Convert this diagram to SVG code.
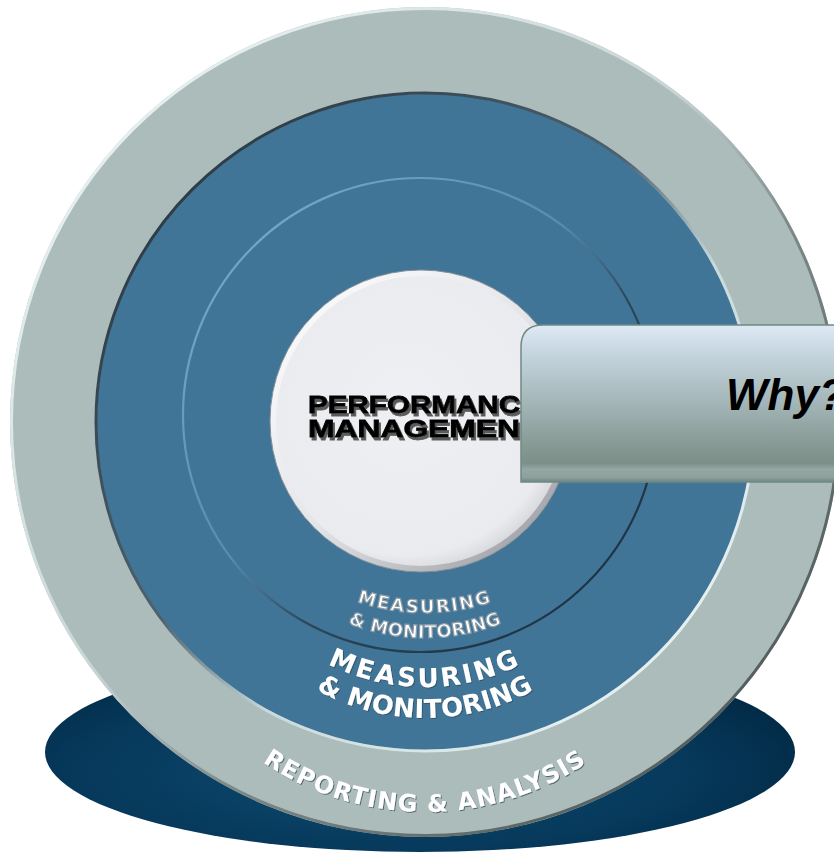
<svg xmlns="http://www.w3.org/2000/svg" width="834" height="853" viewBox="0 0 834 853">
<defs>
<radialGradient id="gShadow" cx="0.45" cy="0.6" r="0.6">
<stop offset="0" stop-color="#0d4b72"/>
<stop offset="0.7" stop-color="#06385a"/>
<stop offset="1" stop-color="#022a45"/>
</radialGradient>
<linearGradient id="gHiDark" x1="0" y1="0" x2="1" y2="1">
<stop offset="0" stop-color="#f2fbfb"/>
<stop offset="0.45" stop-color="#c9d6d5"/>
<stop offset="0.6" stop-color="#7d8a89"/>
<stop offset="1" stop-color="#3c4646"/>
</linearGradient>
<linearGradient id="gDarkHi" x1="0" y1="0" x2="1" y2="1">
<stop offset="0" stop-color="#1f2c34"/>
<stop offset="0.45" stop-color="#4d6270"/>
<stop offset="0.6" stop-color="#c8dadc"/>
<stop offset="1" stop-color="#f4fbfb"/>
</linearGradient>
<linearGradient id="gInnerEdge" x1="0" y1="0" x2="1" y2="1">
<stop offset="0" stop-color="#7fb0d6"/>
<stop offset="0.45" stop-color="#5a8ab0"/>
<stop offset="0.6" stop-color="#2b475a"/>
<stop offset="1" stop-color="#18283a"/>
</linearGradient>
<linearGradient id="gWhiteRim" x1="0" y1="0" x2="1" y2="1">
<stop offset="0" stop-color="#ffffff"/>
<stop offset="0.5" stop-color="#e4e5e9"/>
<stop offset="1" stop-color="#8f9196"/>
</linearGradient>
<radialGradient id="gWhite" cx="0.45" cy="0.45" r="0.55">
<stop offset="0" stop-color="#eff0f4"/>
<stop offset="0.9" stop-color="#eaebef"/>
<stop offset="1" stop-color="#d9dade"/>
</radialGradient>
<linearGradient id="gBox" x1="0" y1="0" x2="0" y2="1">
<stop offset="0" stop-color="#dfeaf5"/>
<stop offset="0.15" stop-color="#c9d8e2"/>
<stop offset="0.45" stop-color="#a8babd"/>
<stop offset="0.8" stop-color="#83968f"/>
<stop offset="0.88" stop-color="#7c8f8a"/>
<stop offset="0.92" stop-color="#95a7a3"/>
<stop offset="0.97" stop-color="#8ea09c"/>
<stop offset="1" stop-color="#6f8782"/>
</linearGradient>
<path id="pBigM" d="M 210,472 A 215 215 0 0 0 640,472"/>
<path id="pBigMon" d="M 200,493 A 225 225 0 0 0 650,493"/>
<path id="pRep" d="M 135,522 A 290 290 0 0 0 715,522"/>
<path id="pSm1" d="M 215,403 A 210 210 0 0 0 635,403"/>
<path id="pSm2" d="M 215,428 A 210 210 0 0 0 635,428"/>
<filter id="fSoft" x="-5%" y="-5%" width="110%" height="110%"><feGaussianBlur stdDeviation="0.5"/></filter>
<filter id="fDrop" x="-5%" y="-20%" width="115%" height="150%"><feDropShadow dx="2" dy="3" stdDeviation="0.3" flood-color="#5a5a5a" flood-opacity="1"/></filter>
<filter id="fTxt" x="-5%" y="-20%" width="115%" height="150%"><feDropShadow dx="1" dy="1" stdDeviation="0.6" flood-color="#25465c" flood-opacity="0.7"/></filter>
</defs>
<style>
.curve{font-family:"DejaVu Sans","Liberation Sans",sans-serif;font-weight:bold;fill:#ffffff;}
.pm{font-family:"Liberation Sans","Arial",sans-serif;font-weight:bold;font-size:24px;fill:#000000;stroke:#000000;stroke-width:0.8px;}
.why{font-family:"Liberation Sans","Arial",sans-serif;font-weight:bold;font-style:italic;font-size:44px;fill:#000000;}
</style>

<g id="base-shadow">
<ellipse cx="420" cy="752" rx="375" ry="100" fill="url(#gShadow)"/>
</g>

<g id="ring-reporting">
<circle cx="425" cy="422" r="415" fill="#acbcba"/>
<circle cx="425" cy="422" r="413.5" fill="none" stroke="url(#gHiDark)" stroke-width="3"/>
<text class="curve" font-size="24" letter-spacing="1.1" filter="url(#fTxt)"><textPath href="#pRep" startOffset="50%" text-anchor="middle">REPORTING &amp; ANALYSIS</textPath></text>
</g>

<g id="ring-measuring">
<circle cx="425" cy="422" r="328" fill="#417597"/>
<circle cx="425" cy="422" r="329" fill="none" stroke="url(#gDarkHi)" stroke-width="3"/>
<text class="curve" font-size="26" filter="url(#fTxt)"><textPath href="#pBigM" startOffset="50%" text-anchor="middle" letter-spacing="2.8">MEASURING</textPath><textPath href="#pBigMon" startOffset="50%" text-anchor="middle" letter-spacing="0.3">&amp; MONITORING</textPath></text>
</g>

<g id="ring-inner">
<circle cx="420" cy="415" r="237" fill="#417597"/>
<circle cx="420" cy="415" r="237" fill="none" stroke="url(#gInnerEdge)" stroke-width="2.2"/>
<g filter="url(#fSoft)">
<text class="curve" font-size="18" stroke="#8c9ba6" stroke-width="1.2"><textPath href="#pSm1" startOffset="50%" text-anchor="middle" letter-spacing="1.8">MEASURING</textPath><textPath href="#pSm2" startOffset="50%" text-anchor="middle" letter-spacing="0.2">&amp; MONITORING</textPath></text>
</g>
</g>

<g id="core">
<circle cx="421" cy="421" r="151" fill="url(#gWhite)"/>
<circle cx="421" cy="421" r="148" fill="none" stroke="url(#gWhiteRim)" stroke-width="6"/>
<circle cx="421" cy="421" r="151" fill="none" stroke="#7f8d96" stroke-width="1"/>
<text class="pm" filter="url(#fDrop)"><tspan x="308" y="413" textLength="212" lengthAdjust="spacingAndGlyphs">PERFORMANC</tspan><tspan x="308" y="437" textLength="212" lengthAdjust="spacingAndGlyphs">MANAGEMEN</tspan></text>
</g>

<g id="why-box">
<path d="M 521,482 L 521,347 Q 521,325 543,325 L 840,325 L 840,482 Z" fill="url(#gBox)" stroke="#6f8985" stroke-width="1.5"/>
<text class="why" x="726" y="410">Why?</text>
</g>

<g id="connectors"/>
</svg>
